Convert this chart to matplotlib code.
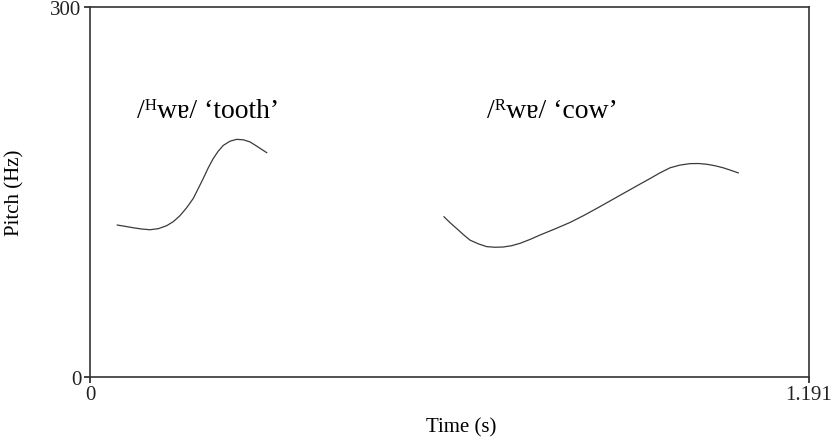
import matplotlib
matplotlib.use("Agg")
import matplotlib.pyplot as plt

plt.rcParams['font.family'] = ['Liberation Serif', 'DejaVu Serif']

# Curve 1: /Hwɐ/ 'tooth'
t1 = [0.0452, 0.0577, 0.0717, 0.0855, 0.0994, 0.1134, 0.1271, 0.1381, 0.1490, 0.1597,
      0.1711, 0.1793, 0.1876, 0.1958, 0.2041, 0.2123, 0.2208, 0.2319, 0.2430, 0.2541,
      0.2651, 0.2783, 0.2927]
p1 = [123.2, 122.2, 121.0, 120.0, 119.4, 120.3, 122.7, 126.0, 130.8, 137.0,
      144.8, 152.8, 161.0, 169.5, 177.1, 183.0, 187.8, 191.2, 192.7, 192.3,
      190.6, 186.5, 181.9]

# Curve 2: /Rwɐ/ 'cow'
t2 = [0.5864, 0.5967, 0.6071, 0.6184, 0.6294, 0.6431, 0.6572, 0.6710, 0.6847, 0.6988,
      0.7124, 0.7287, 0.7454, 0.7699, 0.7951, 0.8173, 0.8394, 0.8616, 0.8834, 0.9059,
      0.9276, 0.9441, 0.9607, 0.9770, 0.9938, 1.0080, 1.0216, 1.0353, 1.0490, 1.0615,
      1.0738]
p2 = [129.9, 125.0, 120.5, 115.5, 111.0, 108.0, 105.7, 105.2, 105.4, 106.5,
      108.4, 111.5, 115.1, 120.0, 125.3, 130.8, 136.7, 142.8, 148.8, 155.0,
      160.9, 165.5, 169.6, 171.8, 173.0, 173.1, 172.5, 171.3, 169.6, 167.6,
      165.5]

xlim = (0, 1.191)
ylim = (0, 300)
xticks = [0, 1.191]
xticklabels = ['0', '1.191']
yticks = [0, 300]
yticklabels = ['0', '300']

fig = plt.figure(figsize=(8.33, 4.39), dpi=100)
ax = fig.add_axes([90/833, 1-378/439, (809-90)/833, (378-8)/439])

line_color = '#3a3a3a'
ax.plot(t1, p1, color=line_color, lw=0.9)
ax.plot(t2, p2, color=line_color, lw=0.9)

ax.set_xlim(*xlim)
ax.set_ylim(*ylim)
ax.set_xticks(xticks)
ax.set_xticklabels(xticklabels)
ax.set_yticks(yticks)
ax.set_yticklabels(yticklabels)
ax.tick_params(direction='out', length=4, width=1.2, labelsize=15, pad=2, colors='#222222')
for s in ax.spines.values():
    s.set_linewidth(1.2)
    s.set_color('#333333')

ax.set_xlabel('Time (s)', fontsize=15, labelpad=9)
ax.xaxis.set_label_coords(0.516, -0.11)
ax.set_ylabel('Pitch (Hz)', fontsize=15, labelpad=19)

ax.text(0.0779, 211, '/ᴴwɐ/ ‘tooth’', fontsize=20, ha='left', va='baseline')
ax.text(0.6576, 211, '/ᴿwɐ/ ‘cow’', fontsize=20, ha='left', va='baseline')

fig.savefig('out.png', dpi=100)
